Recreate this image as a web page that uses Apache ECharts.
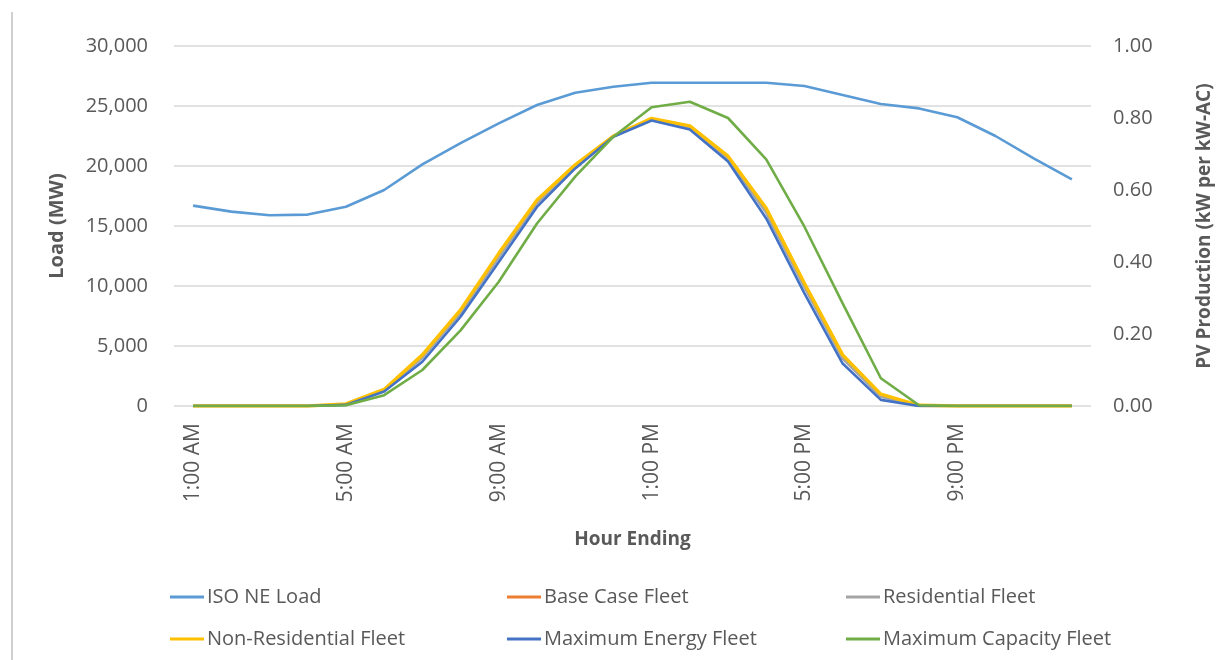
<!DOCTYPE html>
<html>
<head>
<meta charset="utf-8">
<script src="https://cdn.jsdelivr.net/npm/echarts@6/dist/echarts.min.js"></script>
<style>
html,body{margin:0;padding:0;background:#fff;}
#chart{width:1222px;height:660px;}
</style>
</head>
<body>
<div id="chart"></div>
<script>
var hours = ['1:00 AM','2:00 AM','3:00 AM','4:00 AM','5:00 AM','6:00 AM','7:00 AM','8:00 AM','9:00 AM','10:00 AM','11:00 AM','12:00 PM',
             '1:00 PM','2:00 PM','3:00 PM','4:00 PM','5:00 PM','6:00 PM','7:00 PM','8:00 PM','9:00 PM','10:00 PM','11:00 PM','12:00 AM'];
var isoLoad = [16700,16200,15900,15950,16600,18000,20140,21900,23550,25080,26100,26600,
               26940,26940,26940,26940,26670,25920,25170,24800,24060,22500,20640,18890];
var baseCase = [0,0,0,0,0.005,0.043,0.138,0.262,0.418,0.567,0.667,0.749,
                0.797,0.775,0.690,0.543,0.335,0.138,0.030,0,0,0,0,0];
var residential = [0,0,0,0,0.004,0.042,0.134,0.258,0.413,0.563,0.665,0.749,
                   0.796,0.773,0.687,0.537,0.330,0.132,0.026,0,0,0,0,0];
var nonResidential = [0,0,0,0,0.006,0.046,0.142,0.267,0.424,0.572,0.670,0.750,
                      0.799,0.778,0.694,0.549,0.341,0.142,0.033,0.002,0,0,0,0];
var maxEnergy = [0,0,0,0,0.003,0.040,0.123,0.248,0.400,0.553,0.660,0.748,
                 0.793,0.768,0.679,0.521,0.313,0.118,0.017,0,0,0,0,0];
var maxCapacity = [0,0,0,0,0.002,0.030,0.100,0.210,0.345,0.507,0.637,0.748,
                   0.830,0.845,0.800,0.685,0.498,0.285,0.077,0.002,0,0,0,0];
var loadTicks = [0,5000,10000,15000,20000,25000,30000];
var pvTicks = [0,0.2,0.4,0.6,0.8,1.0];

var names = ['ISO NE Load','Base Case Fleet','Residential Fleet','Non-Residential Fleet','Maximum Energy Fleet','Maximum Capacity Fleet'];
var colors = ['#5B9BD5','#ED7D31','#A5A5A5','#FFC000','#4472C4','#70AD47'];
var font = '"Open Sans", "Noto Sans", sans-serif';
var textColor = '#595959';

var legendPos = [[165,594],[502,594],[841,594],[165,636],[502,636],[841,636]];
var legends = names.map(function(n,i){
  return {
    data:[n], left: legendPos[i][0], top: legendPos[i][1]-12,
    icon:'rect', itemWidth:34, itemHeight:3, itemGap:0,
    textStyle:{fontFamily:font, fontSize:20, color:textColor, padding:[0,0,0,-2]},
    selectedMode:false
  };
});

var seriesData = [isoLoad, baseCase, residential, nonResidential, maxEnergy, maxCapacity];
var widths = [2.6,2.6,2.6,3.4,2.6,2.6];
var series = names.map(function(n,i){
  return {
    name:n, type:'line', data:seriesData[i], yAxisIndex: i===0?0:1,
    symbol:'none', smooth:false, lineStyle:{width:widths[i], color:colors[i]},
    itemStyle:{color:colors[i]}, z: 2+i
  };
});

var chart = echarts.init(document.getElementById('chart'));
chart.setOption({
  animation:false,
  backgroundColor:'#ffffff',
  color: colors,
  grid:{left:174, right:127, top:46, bottom:254, containLabel:false},
  graphic:[{type:'line', shape:{x1:12,y1:12,x2:12,y2:660}, style:{stroke:'#d0d0d0', lineWidth:2}}],
  legend: legends,
  xAxis:{
    type:'category', data:hours, boundaryGap:true,
    name:'Hour Ending', nameLocation:'middle', nameGap:124,
    nameTextStyle:{fontFamily:font, fontSize:19, fontWeight:'bold', color:textColor},
    axisLine:{show:false}, axisTick:{show:false},
    axisLabel:{interval:3, rotate:90, fontFamily:font, fontSize:21, color:textColor, margin:17}
  },
  yAxis:[{
    type:'value', min:loadTicks[0], max:loadTicks[loadTicks.length-1], interval:loadTicks[1]-loadTicks[0],
    name:'Load (MW)', nameLocation:'middle', nameGap:107, nameRotate:90,
    nameTextStyle:{fontFamily:font, fontSize:20, fontWeight:'bold', color:textColor},
    axisLine:{show:false}, axisTick:{show:false},
    axisLabel:{fontFamily:font, fontSize:20, color:textColor, margin:26,
      formatter:function(v){return v.toLocaleString('en-US');}},
    splitLine:{lineStyle:{color:'#D9D9D9', width:1.5}}
  },{
    type:'value', min:pvTicks[0], max:pvTicks[pvTicks.length-1], interval:pvTicks[1]-pvTicks[0],
    name:'PV Production (kW per kW-AC)', nameLocation:'middle', nameGap:104, nameRotate:90,
    nameTextStyle:{fontFamily:font, fontSize:19, fontWeight:'bold', color:textColor},
    axisLine:{show:false}, axisTick:{show:false}, splitLine:{show:false},
    axisLabel:{fontFamily:font, fontSize:20, color:textColor, margin:22,
      formatter:function(v){return v.toFixed(2);}}
  }],
  series: series
});
</script>
</body>
</html>
